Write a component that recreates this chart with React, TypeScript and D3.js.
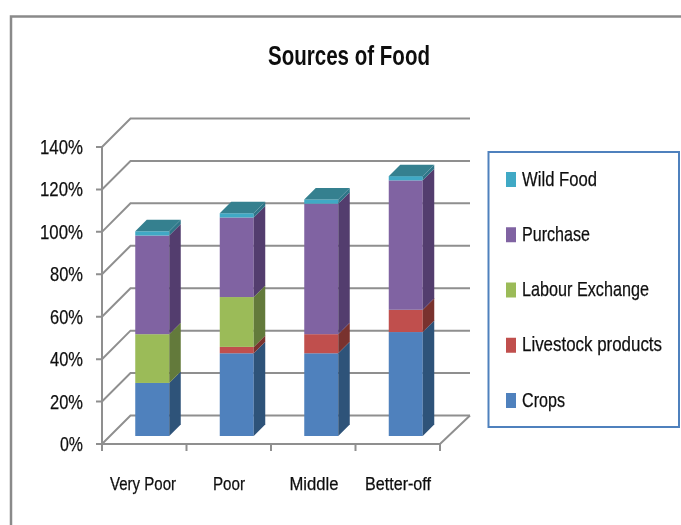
import React from "react";
import * as d3 from "d3";

const categories = ["Very Poor", "Poor", "Middle", "Better-off"];
const crops = [25, 39, 39, 49];
const livestock = [0, 3, 9, 10.5];
const labour = [23, 23.5, 0, 0];
const purchase = [46.5, 37.5, 61.5, 61];
const wildFood = [2, 2, 2, 2];
const yTicks = [0, 20, 40, 60, 80, 100, 120, 140];

const seriesNames = ["Crops", "Livestock products", "Labour Exchange", "Purchase", "Wild Food"];
const seriesValues = [crops, livestock, labour, purchase, wildFood];
const frontColors = ["#4f81bd", "#c0504d", "#9bbb59", "#8064a2", "#3fa9c5"];
const sideColors = ["#2f5279", "#79302e", "#647a3a", "#533e6e", "#2f7488"];
const topColor = "#35808f";
const legendOrder = [4, 3, 2, 1, 0];
const legendTextWidth = [75, 68, 127, 140, 43];

const gridColor = "#8f8f8f";
const font = "'Liberation Sans Narrow', 'Liberation Sans', sans-serif";

const rows = categories.map((c, i) => {
  const r: Record<string, number | string> = { category: c };
  seriesNames.forEach((s, k) => (r[s] = seriesValues[k][i]));
  return r;
});
const stacked = d3.stack<any>().keys(seriesNames)(rows as any);

const x = d3.scaleBand().domain(categories).range([102, 440]);
const y = d3.scaleLinear().domain([0, 140]).range([444, 147]);
const wall = 28.5; // wall depth
const inset = 8; // bars stand this far into the floor
const barW = 34;
const depth = 11.5;
const barX = (c: string) => x(c)! + x.step() / 2 + inset - barW / 2;
const barY = (v: number) => y(v) - inset;
const bottomTicks = [...categories.map((c) => x(c)!), 440];
const catWidths = [66, 32, 49, 66];
const catCenters = [143, 229, 314, 398];
const tickWidth = (t: number) => (t === 0 ? 23 : t < 100 ? 33 : 43);

export default function App() {
  const legendY = d3.scalePoint<number>().domain(legendOrder).range([179, 400]);
  return (
    <svg
      width={681}
      height={525}
      style={{ position: "absolute", left: 0, top: 0, background: "#fff" }}
    >
      <defs>
        <filter id="soft" x="-5%" y="-5%" width="110%" height="110%">
          <feGaussianBlur stdDeviation="0.45" />
        </filter>
      </defs>
      <g filter="url(#soft)">
        <path d="M11 525V16.5H681" fill="none" stroke="#8a8a8a" strokeWidth={2.5} />
        <text x={349} y={65} fontFamily={font} fontSize={27} fontWeight={700} textLength={162} lengthAdjust="spacingAndGlyphs" textAnchor="middle" fill="#111">
          Sources of Food
        </text>

        {/* walls and floor */}
        {yTicks.map((t) => (
          <path
            key={t}
            d={`M96 ${y(t)}H102L${102 + wall} ${y(t) - wall}H470`}
            fill="none"
            stroke={gridColor}
            strokeWidth={2}
          />
        ))}
        <path d={`M102 ${y(140)}V${y(0)}H440L470 ${y(0) - wall}`} fill="none" stroke={gridColor} strokeWidth={2} />
        {bottomTicks.map((t, i) => (
          <line key={i} x1={t} x2={t} y1={y(0)} y2={y(0) + 7} stroke={gridColor} strokeWidth={2} />
        ))}

        {yTicks.map((t) => (
          <text
            key={t}
            x={83}
            y={y(t) + 7}
            textAnchor="end"
            fontFamily={font}
            fontSize={21}
            fill="#111"
            stroke="#111"
            strokeWidth={0.25}
            textLength={tickWidth(t)}
            lengthAdjust="spacingAndGlyphs"
          >
            {t}%
          </text>
        ))}
        {categories.map((c, i) => (
          <text
            key={c}
            x={catCenters[i]}
            y={490}
            textAnchor="middle"
            fontFamily={font}
            fontSize={18}
            fill="#111"
            stroke="#111"
            strokeWidth={0.25}
            textLength={catWidths[i]}
            lengthAdjust="spacingAndGlyphs"
          >
            {c}
          </text>
        ))}

        {/* bars */}
        {categories.map((c, i) => {
          const bx = barX(c);
          const topSeries = stacked[stacked.length - 1][i][1];
          return (
            <g key={c}>
              {stacked.map((s, k) => {
                const [v0, v1] = s[i];
                if (v1 - v0 <= 0) return null;
                const yTop = barY(v1);
                const yBot = barY(v0);
                return (
                  <g key={k}>
                    <rect x={bx} y={yTop} width={barW} height={yBot - yTop} fill={frontColors[k]} />
                    <path
                      d={`M${bx + barW} ${yTop}l${depth} ${-depth}V${yBot - depth}l${-depth} ${depth}Z`}
                      fill={sideColors[k]}
                    />
                  </g>
                );
              })}
              <path
                d={`M${bx} ${barY(topSeries)}h${barW}l${depth} ${-depth}h${-barW}Z`}
                fill={topColor}
              />
            </g>
          );
        })}

        {/* legend */}
        <rect x={488.5} y={152} width={190.5} height={275} fill="#fff" stroke="#4f81bd" strokeWidth={2} />
        {legendOrder.map((k, i) => (
          <g key={k}>
            <rect x={506} y={legendY(k)! - 7} width={10} height={15} fill={frontColors[k]} />
            <text
              x={522}
              y={legendY(k)! + 6.5}
              fontFamily={font}
              fontSize={21}
              fill="#111"
              stroke="#111"
              strokeWidth={0.25}
              textLength={legendTextWidth[i]}
              lengthAdjust="spacingAndGlyphs"
            >
              {seriesNames[k]}
            </text>
          </g>
        ))}
      </g>
    </svg>
  );
}
